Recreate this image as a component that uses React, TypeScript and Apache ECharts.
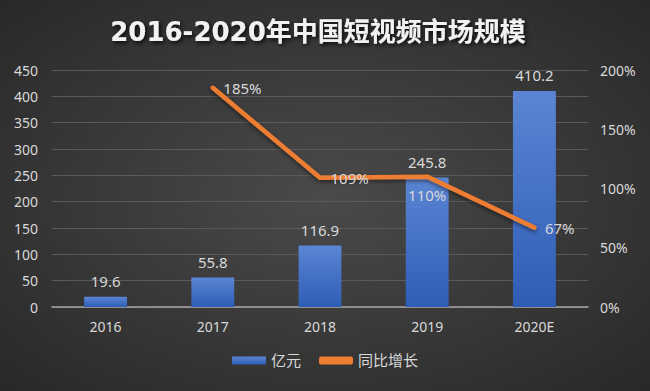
import React, { useEffect, useRef } from "react";
import * as echarts from "echarts";

const categories = ["2016", "2017", "2018", "2019", "2020E"];
const marketSize = [19.6, 55.8, 116.9, 245.8, 410.2];
const growth: (number | null)[] = [null, 185, 109, 110, 67];
const growthLabelPos = ["right", "right", "right", "bottom", "right"];

export default function App() {
  const ref = useRef<HTMLDivElement>(null);
  useEffect(() => {
    const chart = echarts.init(ref.current!, null, { renderer: "svg" });
    const txt = "#D9D9D9";
    const font = "'Noto Sans', 'Noto Sans CJK SC', sans-serif";
    chart.setOption({
      animation: false,
      backgroundColor: {
        type: "radial", x: 0.5, y: 0.5, r: 0.75,
        colorStops: [
          { offset: 0, color: "#4a4a4a" },
          { offset: 1, color: "#262626" },
        ],
      },
      textStyle: { fontFamily: font },
      title: {
        text: "2016-2020年中国短视频市场规模",
        left: 313,
        textAlign: "center",
        top: 14,
        textStyle: {
          color: "#F2F2F2", fontSize: 26, fontWeight: "bold",
          fontFamily: "'DejaVu Sans', 'Noto Sans CJK SC', sans-serif",
          textShadowColor: "rgba(0,0,0,0.8)", textShadowBlur: 4, textShadowOffsetX: 2, textShadowOffsetY: 2,
        },
      },
      legend: {
        bottom: 18,
        left: "center",
        itemGap: 18,
        itemWidth: 34,
        itemHeight: 8,
        textStyle: { color: txt, fontSize: 15, fontFamily: font },
        data: [
          { name: "亿元", icon: "rect" },
          { name: "同比增长", icon: "roundRect" },
        ],
      },
      grid: { left: 52, right: 62, top: 70, bottom: 84 },
      xAxis: {
        type: "category",
        data: categories,
        axisTick: { show: false },
        axisLine: { lineStyle: { color: "#A6A6A6", width: 1.5 } },
        axisLabel: { color: txt, fontSize: 14, margin: 12 },
      },
      yAxis: [
        {
          type: "value", min: 0, max: 450, interval: 50,
          axisLabel: { color: txt, fontSize: 14, margin: 14 },
          splitLine: { lineStyle: { color: "#5a5a5a", width: 1 } },
          axisLine: { show: false }, axisTick: { show: false },
        },
        {
          type: "value", min: 0, max: 200, interval: 50,
          axisLabel: { color: txt, fontSize: 14, margin: 12, formatter: "{value}%" },
          splitLine: { show: false },
          axisLine: { show: false }, axisTick: { show: false },
        },
      ],
      series: [
        {
          name: "亿元",
          type: "bar",
          data: marketSize,
          barWidth: "40%",
          itemStyle: {
            color: {
              type: "linear", x: 0, y: 0, x2: 0, y2: 1,
              colorStops: [
                { offset: 0, color: "#5b85d4" },
                { offset: 1, color: "#2f5db5" },
              ],
            },
          },
          label: { show: true, position: "top", color: txt, fontSize: 15, distance: 8 },
        },
        {
          name: "同比增长",
          type: "line",
          yAxisIndex: 1,
          data: growth.map((v, i) => ({
            value: v,
            label: { position: growthLabelPos[i] },
          })),
          symbol: "circle",
          symbolSize: 1,
          showSymbol: true,
          lineStyle: { color: "#ED7D31", width: 4.5, cap: "round", join: "round",
            shadowColor: "rgba(0,0,0,0.5)", shadowBlur: 4, shadowOffsetY: 2 },
          itemStyle: { color: "#ED7D31" },
          label: { show: true, color: txt, fontSize: 15, distance: 10, formatter: "{c}%" },
        },
      ],
    });
    return () => chart.dispose();
  }, []);
  return <div ref={ref} style={{ width: 650, height: 391, position: "absolute", left: 0, top: 0 }} />;
}
